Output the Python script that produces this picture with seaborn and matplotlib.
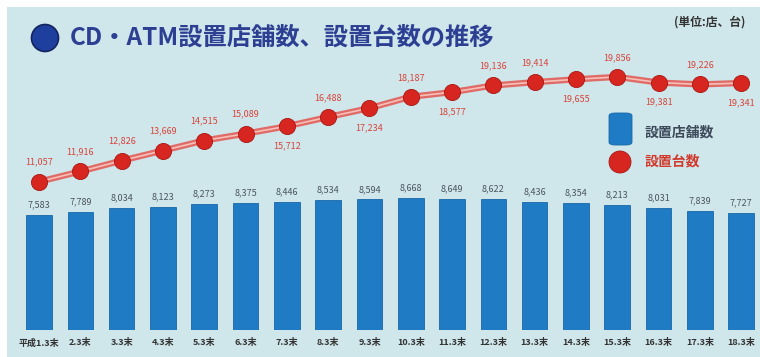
import matplotlib
matplotlib.use("Agg")
import matplotlib.pyplot as plt
import matplotlib.patches as mpatches
import seaborn as sns
import pandas as pd

sns.set_theme(style="white")
plt.rcParams['font.family'] = ['Noto Sans CJK JP', 'DejaVu Sans']

categories = ["平成1.3末", "2.3末", "3.3末", "4.3末", "5.3末", "6.3末", "7.3末", "8.3末", "9.3末",
              "10.3末", "11.3末", "12.3末", "13.3末", "14.3末", "15.3末", "16.3末", "17.3末", "18.3末"]
stores = [7583, 7789, 8034, 8123, 8273, 8375, 8446, 8534, 8594,
          8668, 8649, 8622, 8436, 8354, 8213, 8031, 7839, 7727]
machines = [11057, 11916, 12826, 13669, 14515, 15089, 15712, 16488, 17234,
            18187, 18577, 19136, 19414, 19655, 19856, 19381, 19226, 19341]
label_below = [False, False, False, False, False, False, True, False, True,
               False, True, False, False, True, False, True, False, True]

title = "CD・ATM設置店舗数、設置台数の推移"
unit = "(単位:店、台)"
legend_bar = "設置店舗数"
legend_dot = "設置台数"

df = pd.DataFrame({"cat": categories, "stores": stores, "machines": machines})
df["x"] = range(len(df))

W, H = 760, 357
fig = plt.figure(figsize=(W / 100, H / 100), dpi=100)
fig.patch.set_facecolor("white")
bg = "#cfe6eb"
fig.patches.append(mpatches.Rectangle((7 / W, 0), 1, 1 - 7 / H, transform=fig.transFigure,
                                      facecolor=bg, edgecolor="none", zorder=-10))

ax = fig.add_axes([18.4 / W, 1 - 330 / H, 743.4 / W, 322 / H])
ax.patch.set_visible(False)
sns.barplot(data=df, x="cat", y="stores", ax=ax, color="#1f7cc4", width=0.62,
            saturation=1, edgecolor="#1768a8", linewidth=0.6)
ax.set_ylim(0, 322 / 0.0152)
ax.set_xlim(-0.5, 17.5)
for i, v in enumerate(stores):
    ax.annotate(f"{v:,}", (i, v), xytext=(0, 4), textcoords="offset points",
                ha="center", va="bottom", fontsize=6.5, color="#4a5560")
ax.set_xlabel("")
ax.set_ylabel("")
ax.set_yticks([])
ax.set_xticks(range(len(categories)))
ax.set_xticklabels(categories, fontsize=6.5, color="#333333", fontweight="bold")
ax.tick_params(axis="x", length=0, pad=6)
for s in ax.spines.values():
    s.set_visible(False)

ax2 = ax.twinx()
ax2.patch.set_visible(False)
sns.lineplot(data=df, x="x", y="machines", ax=ax2, color="#e06a66", linewidth=4.5, zorder=2)
sns.lineplot(data=df, x="x", y="machines", ax=ax2, color="#f6c0b8", linewidth=1.2, zorder=3)
ax2.scatter(df["x"], df["machines"], s=135, color="#d7261f", edgecolor="#a81612",
            linewidth=0.6, zorder=4)
ax2.set_ylim(-1395, 25641)
ax2.set_xlim(-0.5, 17.5)
for i, v in enumerate(machines):
    dy = -14 if label_below[i] else 14
    ax2.annotate(f"{v:,}", (i, v), xytext=(0, dy), textcoords="offset points",
                 ha="center", va="center", fontsize=6.5, color="#d8443a")
ax2.set_yticks([])
ax2.set_ylabel("")
ax2.set_xlabel("")
for s in ax2.spines.values():
    s.set_visible(False)

# title
fig.patches.append(mpatches.Ellipse((45 / W, 1 - 38 / H), 27 / W, 27 / H, transform=fig.transFigure,
                                    facecolor="#1f3f9e", edgecolor="#13245e", linewidth=1.2))
fig.text(70 / W, 1 - 38 / H, title, fontsize=17.5, fontweight="bold", color="#2c3f93",
         ha="left", va="center")
fig.text(745 / W, 1 - 22 / H, unit, fontsize=8.5, color="#333333", ha="right", va="center",
         fontweight="bold")

# legend
fig.patches.append(mpatches.FancyBboxPatch((609 / W, 1 - 145 / H), 23 / W, 32 / H,
                                           boxstyle="round,pad=0,rounding_size=0.008",
                                           transform=fig.transFigure, facecolor="#1f7cc4",
                                           edgecolor="#1768a8", linewidth=0.6))
fig.text(645 / W, 1 - 133 / H, legend_bar, fontsize=10, color="#3d4a5a", ha="left",
         va="center", fontweight="bold")
fig.patches.append(mpatches.Ellipse((620 / W, 1 - 162 / H), 22 / W, 22 / H, transform=fig.transFigure,
                                    facecolor="#d7261f", edgecolor="#a81612", linewidth=0.6))
fig.text(645 / W, 1 - 162 / H, legend_dot, fontsize=10, color="#d23a2e", ha="left",
         va="center", fontweight="bold")

fig.savefig("out.png", dpi=100)
